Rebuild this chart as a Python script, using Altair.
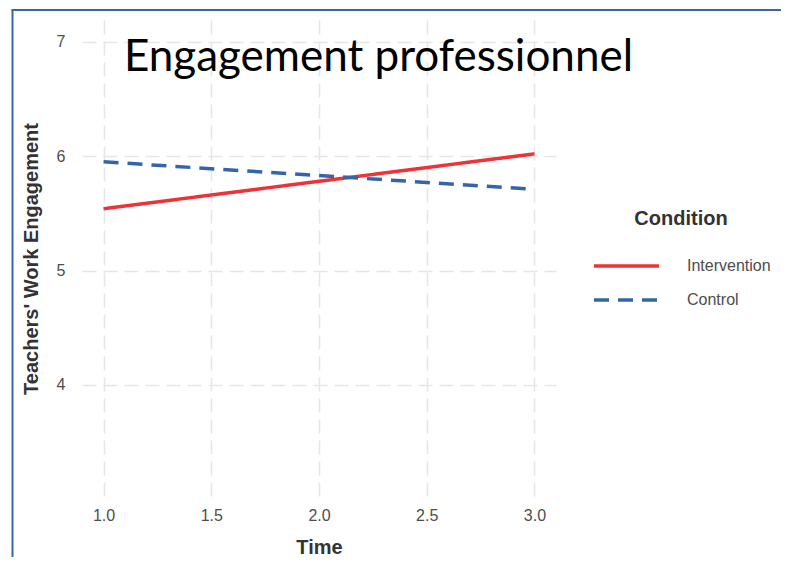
import altair as alt
import pandas as pd

# Values
time_points = [1.0, 3.0]
intervention = [5.54, 6.02]
control = [5.95, 5.71]
conditions = ["Intervention", "Control"]
x_ticks = [1.0, 1.5, 2.0, 2.5, 3.0]
y_ticks = [4, 5, 6, 7]

rows = []
for t, v in zip(time_points, intervention):
    rows.append({"Time": t, "Value": v, "Condition": "Intervention"})
for t, v in zip(time_points, control):
    rows.append({"Time": t, "Value": v, "Condition": "Control"})
df = pd.DataFrame(rows)

legend = alt.Legend(
    title="Condition",
    orient="none",
    legendX=510,
    legendY=189,
    symbolType="stroke",
    symbolSize=4225,
    symbolStrokeWidth=3.5,
    clipHeight=20,
    labelOffset=26,
    labelFont="Liberation Sans",
    labelFontSize=16,
    labelColor="#4D4D4D",
    titleFont="Liberation Sans",
    titleFontSize=20,
    titleFontWeight="bold",
    titleColor="#333333",
    titleAnchor="middle",
    titlePadding=27,
    rowPadding=14,
)

lines = alt.Chart(df).mark_line(strokeWidth=3.5).encode(
    x=alt.X(
        "Time:Q",
        scale=alt.Scale(domain=[0.9, 3.1], nice=False, zero=False),
        axis=alt.Axis(
            values=x_ticks, format=".1f", title="Time",
            grid=True, ticks=False, tickSize=0, domain=False,
            labelPadding=10, titlePadding=14,
        ),
    ),
    y=alt.Y(
        "Value:Q",
        scale=alt.Scale(domain=[3.02, 7.19], nice=False, zero=False),
        axis=alt.Axis(
            values=y_ticks, title="Teachers' Work Engagement",
            grid=True, ticks=False, tickSize=0, domain=False,
            labelPadding=17, titlePadding=15,
        ),
    ),
    color=alt.Color(
        "Condition:N", sort=conditions,
        scale=alt.Scale(domain=conditions, range=["#EE3338", "#3465AA"]),
        legend=legend,
    ),
    strokeDash=alt.StrokeDash(
        "Condition:N", sort=conditions,
        scale=alt.Scale(domain=conditions, range=[[1, 0], [15, 9]]),
        legend=legend,
    ),
)

frame_src = pd.DataFrame({"k": [0]})
frame_left = alt.Chart(frame_src).mark_rule(color="#3E63AD", strokeWidth=2).encode(
    x=alt.value(-69.5), y=alt.value(-10), y2=alt.value(600)
)
frame_top = alt.Chart(frame_src).mark_rule(color="#3E63AD", strokeWidth=2).encode(
    x=alt.value(-70.5), x2=alt.value(720), y=alt.value(-10)
)

chart = (
    alt.layer(frame_left, frame_top, lines)
    .properties(
        width=474,
        height=477,
        autosize=alt.AutoSizeParams(type="none"),
        padding={"left": 74, "top": 12, "right": 225, "bottom": 60},
        title=alt.TitleParams(
            text="Engagement professionnel",
            font="Lato",
            fontSize=44,
            fontWeight="normal",
            color="#000000",
            anchor="start",
            frame="group",
            baseline="alphabetic",
            offset=0,
            dx=42,
            dy=106,
        ),
    )
    .configure_view(stroke=None)
    .configure_axis(
        gridColor="#E6E6E6",
        gridDash=[14, 7],
        gridWidth=1.6,
        labelFont="Liberation Sans",
        labelFontSize=16,
        labelColor="#4D4D4D",
        titleFont="Liberation Sans",
        titleFontSize=20,
        titleFontWeight="bold",
        titleColor="#333333",
    )
)

chart.save("out.html", embed_options={"renderer": "svg", "actions": False})
